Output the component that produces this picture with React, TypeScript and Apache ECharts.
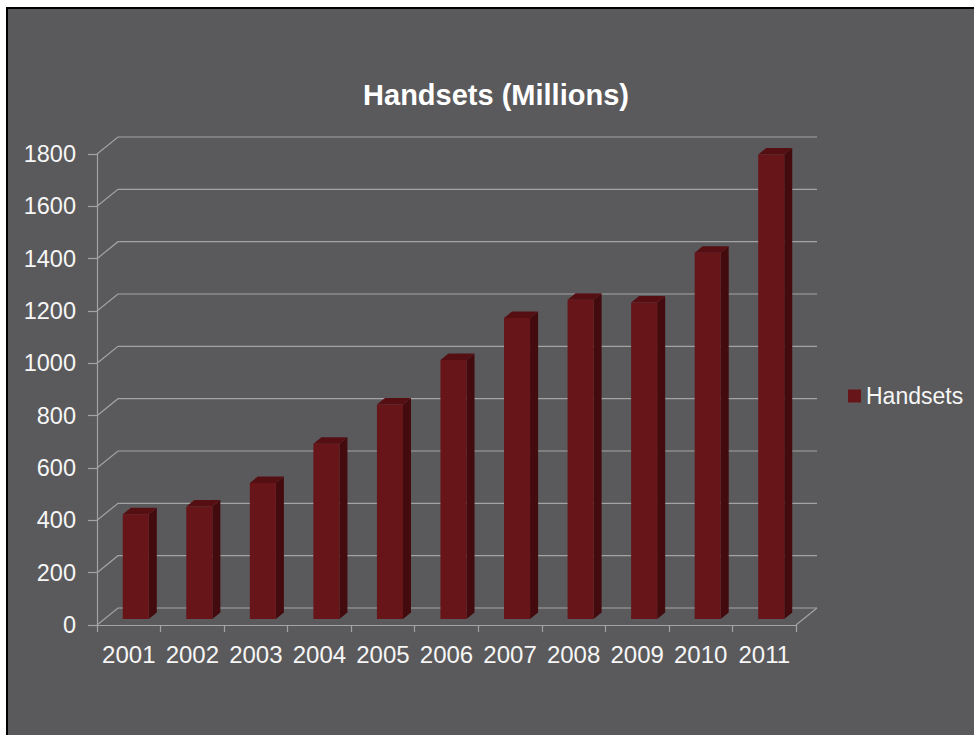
import React, { useEffect, useRef } from "react";
import * as echarts from "echarts";

const categories = ["2001", "2002", "2003", "2004", "2005", "2006", "2007", "2008", "2009", "2010", "2011"];
const handsets = [400, 430, 520, 670, 820, 990, 1150, 1220, 1210, 1400, 1775];
const yTicks = [0, 200, 400, 600, 800, 1000, 1200, 1400, 1600, 1800];
const seriesName = "Handsets";
const titleText = "Handsets (Millions)";

const FONT = '"Liberation Sans", Arial, sans-serif';
const GRID_COLOR = "#a3a3a3";
const FRONT = "#671519";
const SIDE = "#430b0e";
const TOP = "#550f13";
// depth of the 3D box (back wall offset)
const WALL_DX = 21;
const WALL_DY = 17;

export default function App() {
  const ref = useRef<HTMLDivElement>(null);

  useEffect(() => {
    if (!ref.current) return;
    const chart = echarts.init(ref.current, null, { renderer: "svg" });

    const wallItem = (params: any, api: any) => {
      const cs = params.coordSys;
      const v = api.value(1);
      const y = api.coord([0, v])[1];
      const children: any[] = [
        {
          type: "polyline",
          shape: {
            points: [
              [cs.x, y],
              [cs.x + WALL_DX, y - WALL_DY],
              [cs.x + cs.width + WALL_DX, y - WALL_DY],
            ],
          },
          style: { stroke: GRID_COLOR, fill: "none", lineWidth: 1.2 },
        },
      ];
      if (v === 0) {
        children.push({
          type: "line",
          shape: { x1: cs.x + cs.width, y1: y, x2: cs.x + cs.width + WALL_DX, y2: y - WALL_DY },
          style: { stroke: GRID_COLOR, lineWidth: 1.2 },
        });
      }
      return { type: "group", children };
    };

    const barItem = (params: any, api: any) => {
      const i = api.value(0);
      const v = api.value(1);
      const base = api.coord([i, 0]);
      const top = api.coord([i, v]);
      const catW = api.size([1, 0])[0];
      const w = catW * 0.41;
      const ox = 7;
      const oy = -6;
      const dx = 8;
      const dy = 6.5;
      const x0 = base[0] - w / 2 + ox;
      const x1 = x0 + w;
      const yb = base[1] + oy;
      const yt = top[1] + oy;
      return {
        type: "group",
        children: [
          {
            type: "polygon",
            shape: { points: [[x1, yt], [x1 + dx, yt - dy], [x1 + dx, yb - dy], [x1, yb]] },
            style: { fill: SIDE },
          },
          {
            type: "polygon",
            shape: { points: [[x0, yt], [x0 + dx, yt - dy], [x1 + dx, yt - dy], [x1, yt]] },
            style: { fill: TOP },
          },
          {
            type: "rect",
            shape: { x: x0, y: yt, width: w, height: yb - yt },
            style: { fill: FRONT },
          },
        ],
      };
    };

    chart.setOption({
      animation: false,
      backgroundColor: "transparent",
      color: [FRONT],
      title: {
        text: titleText,
        left: 496,
        top: 80,
        textAlign: "center",
        padding: 0,
        textStyle: { color: "#ffffff", fontSize: 29, fontWeight: "bold", fontFamily: FONT },
      },
      legend: {
        data: [{ name: seriesName, icon: "rect", itemStyle: { color: FRONT } }],
        left: 848,
        top: 383,
        padding: 0,
        itemWidth: 13,
        itemHeight: 13,
        textStyle: { color: "#f6f6f6", fontSize: 23, fontFamily: FONT, lineHeight: 26 },
      },
      grid: { left: 97, top: 154, width: 699, height: 471, containLabel: false },
      xAxis: {
        type: "category",
        data: categories,
        boundaryGap: true,
        axisLine: { show: true, lineStyle: { color: GRID_COLOR, width: 1.2 } },
        axisTick: { show: true, length: 7, lineStyle: { color: GRID_COLOR, width: 1.2 } },
        axisLabel: { color: "#f6f6f6", fontSize: 24, fontFamily: FONT, margin: 17, interval: 0 },
        splitLine: { show: false },
      },
      yAxis: {
        type: "value",
        min: 0,
        max: 1800,
        interval: 200,
        axisLine: { show: true, lineStyle: { color: GRID_COLOR, width: 1.2 } },
        axisTick: { show: true, length: 9, lineStyle: { color: GRID_COLOR, width: 1.2 } },
        axisLabel: {
          color: "#f6f6f6",
          fontSize: 23.5,
          fontFamily: FONT,
          margin: 21,
          formatter: (v: number) => String(v),
        },
        splitLine: { show: false },
      },
      series: [
        {
          type: "custom",
          name: "wall",
          silent: true,
          renderItem: wallItem,
          encode: { x: 0, y: 1 },
          data: yTicks.map((v) => [0, v]),
          z: 1,
        },
        {
          type: "custom",
          name: seriesName,
          renderItem: barItem,
          encode: { x: 0, y: 1 },
          itemStyle: { color: FRONT },
          data: handsets.map((v, i) => [i, v]),
          z: 2,
        },
      ],
    });

    return () => chart.dispose();
  }, []);

  return (
    <div>
      <div
        style={{
          position: "fixed",
          left: 6,
          top: 7,
          width: 968,
          height: 728,
          background: "#5a5a5c",
          borderLeft: "2px solid #000",
          borderTop: "2px solid #000",
        }}
      />
      <div ref={ref} style={{ position: "fixed", left: 0, top: 0, width: 974, height: 735 }} />
    </div>
  );
}
